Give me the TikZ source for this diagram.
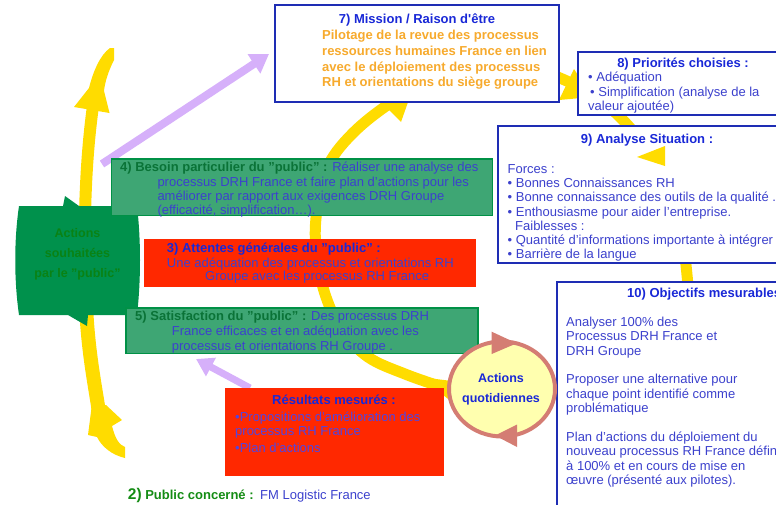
\documentclass[tikz,border=0pt]{standalone}
\usepackage{fontspec}
\setmainfont{Liberation Sans}
\usetikzlibrary{arrows.meta,shapes.geometric}
\definecolor{yel}{RGB}{255,220,0}
\definecolor{lil}{RGB}{214,176,250}
\definecolor{bblue}{RGB}{30,45,180}
\definecolor{tblue}{RGB}{25,40,215}
\definecolor{txtblue}{RGB}{60,65,205}
\definecolor{orng}{RGB}{247,170,45}
\definecolor{gfill}{RGB}{62,166,116}
\definecolor{gline}{RGB}{0,145,70}
\definecolor{gtext}{RGB}{10,115,55}
\definecolor{redf}{RGB}{255,40,0}
\definecolor{dgreen}{RGB}{0,145,76}
\definecolor{dgtext}{RGB}{10,130,20}
\definecolor{cfill}{RGB}{255,255,175}
\definecolor{cline}{RGB}{212,125,115}
\definecolor{pubgreen}{RGB}{20,140,20}
\definecolor{redtxt}{RGB}{80,70,225}
\newcommand{\mystrut}{\rule{0pt}{11pt}}
\begin{document}
\begin{tikzpicture}[x=1pt,y=-1pt,
  bluebox/.style={draw=bblue, line width=2pt, fill=white, anchor=north west, inner sep=0pt, outer sep=0pt},
  greenbox/.style={draw=gline, line width=1.8pt, fill=gfill, anchor=north west, inner sep=0pt, outer sep=0pt},
  redbox/.style={fill=redf, anchor=north west, inner sep=0pt, outer sep=0pt},
  ttl/.style={font=\fontsize{13}{15}\selectfont\bfseries, text=tblue, inner sep=0pt, anchor=base},
  body/.style={inner sep=0pt, anchor=north west, align=left, text=txtblue, font=\fontsize{13}{14.2}\selectfont},
  yband/.style={draw=yel, line width=11pt},
  lilarrow/.style={draw=lil, line width=8pt, -{Triangle[length=18pt,width=22pt]}}
]
\useasboundingbox (0,0) rectangle (776,504);
\clip (0,0) rectangle (776,504);

% big yellow loop
\draw[yband] plot[smooth, tension=0.6] coordinates {(475,398) (445,388) (405,374) (368,357) (342,330) (326,297) (317,258) (316,218) (326,170) (352,134) (395,100) (450,70) (510,62) (560,78) (600,100) (632,130) (660,170) (678,215) (686,265) (688,310) (680,360)};
\fill[yel] (378,99) -- (401,122) -- (413,88) -- cycle;
\fill[yel] (559,100) -- (574,69) -- (592,97) -- cycle;
\fill[yel] (420,377) -- (452,381) -- (452,402) -- cycle;

% left yellow arrow
\draw[draw=yel, line width=12pt] (85,215) .. controls (86,170) and (89,135) .. (93,106);
\fill[yel] (74,107) -- (89,88) .. controls (93,72) and (100,55) .. (110,48) -- (114,48) -- (114,60) .. controls (108,72) and (105,82) .. (104,91) -- (109.5,113) -- cycle;
\draw[draw=yel, line width=14pt] (86,305) .. controls (88,350) and (94,380) .. (99,412);
\fill[yel] (91.5,408) -- (106,405) -- (122,420) -- (112,426) .. controls (115,438) and (119,445) .. (125,447) -- (125,458) .. controls (112,455) and (102,447) .. (97,437) -- (88,435) -- cycle;

% lilac arrows
\coordinate (l1s) at (102,164);
\coordinate (l1e) at (269,54);
\draw[lilarrow] (l1s) -- (l1e);
\coordinate (l2s) at (250,388);
\coordinate (l2e) at (196,359);
\draw[draw=lil, line width=7pt, -{Triangle[length=17pt,width=20pt]}] (l2s) -- (l2e);

% green shape
\fill[dgreen] (19,206) -- (63,206) -- (65,196) -- (79,206) -- (137,206) .. controls (141,240) and (141,280) .. (137,315) -- (88,315) -- (87,326) -- (68,315) -- (19,315) .. controls (14,280) and (14,240) .. (19,206) -- cycle;
\node[inner sep=0pt, anchor=north, align=center, text=dgtext, font=\bfseries\fontsize{12.5}{19.8}\selectfont] (gst) at (77.5,226.3) {\mystrut Actions\\souhaitées\\par le "public"};

% box 7
\node[bluebox, line width=2.5pt, minimum width=284pt, minimum height=97pt] (b7) at (275,5) {};
\node[ttl] (b7t) at (417,23.5) {7) Mission / Raison d\textquotesingle être};
\node[body, text=orng, font=\fontsize{13}{15.7}\selectfont\bfseries] (b7b) at (322,28.5) {\mystrut Pilotage de la revue des processus\\ressources humaines France en lien\\avec le déploiement des processus\\RH et orientations du siège groupe};

% box 8
\node[bluebox, minimum width=222pt, minimum height=63pt] (b8) at (578,52) {};
\node[ttl] (b8t) at (683,67.3) {8) Priorités choisies :};
\node[body] (b8b) at (588,70.7) {\mystrut• Adéquation\\\hspace*{2pt}• Simplification (analyse de la\\valeur ajoutée)};

% box 9
\node[bluebox, minimum width=302pt, minimum height=137.5pt] (b9) at (498,125.5) {};
\node[ttl] (b9t) at (647,143.3) {9) Analyse Situation :};
\node[body] (b9b) at (507.5,162.3) {\mystrut Forces :\\• Bonnes Connaissances RH\\• Bonne connaissance des outils de la qualité ...\\• Enthousiasme pour aider l’entreprise.\\\hspace*{7.5pt}Faiblesses :\\• Quantité d’informations importante à intégrer\\• Barrière de la langue};
\fill[yel] (637,157) -- (665,146) -- (665,166) -- cycle;

% box 10
\node[bluebox, minimum width=243pt, minimum height=240pt] (b10) at (557,282) {};
\node[ttl, anchor=base west] (b10t) at (627,297.3) {10) Objectifs mesurables};
\node[body, font=\fontsize{13}{14.4}\selectfont] (b10b) at (566,315) {\mystrut Analyser 100\% des\\Processus DRH France et\\DRH Groupe\\\mbox{}\\Proposer une alternative pour\\chaque point identifié comme\\problématique\\\mbox{}\\Plan d’actions du déploiement du\\nouveau processus RH France défini\\à 100\% et en cours de mise en\\œuvre (présenté aux pilotes).};

% box 4
\node[greenbox, minimum width=381pt, minimum height=56.5pt] (b4) at (111.5,159) {};
\node[body, anchor=base west] (b4a) at (120,171.7) {\textcolor{gtext}{\bfseries 4) Besoin particulier du "public" :} Réaliser une analyse des};
\node[body] (b4b) at (157.3,175) {\mystrut processus DRH France et faire plan d’actions pour les\\améliorer par rapport aux exigences DRH Groupe\\(efficacité, simplification…).};

% box 3
\node[redbox, minimum width=332pt, minimum height=48pt] (b3) at (144,239) {};
\node[ttl, anchor=base west] (b3t) at (166.7,252.5) {3) Attentes générales du "public" :};
\node[body, anchor=base west] (b3a) at (166.7,267.5) {Une adéquation des processus et orientations RH};
\node[body, anchor=base west] (b3b) at (205,280) {Groupe avec les processus RH France};

% box 5
\node[greenbox, minimum width=352pt, minimum height=45.5pt] (b5) at (126,308) {};
\node[body, anchor=base west] (b5a) at (135,320) {\textcolor{gtext}{\bfseries 5) Satisfaction du "public" :} Des processus DRH};
\node[body, font=\fontsize{13}{15}\selectfont] (b5b) at (171.7,324) {\mystrut France efficaces et en adéquation avec les\\processus et orientations RH Groupe .};

% resultats
\node[redbox, minimum width=219pt, minimum height=88pt] (br) at (225,388) {};
\node[ttl] (brt) at (334,404.3) {Résultats mesurés :};
\node[body, text=redtxt, font=\fontsize{13}{14}\selectfont] (brb) at (235,410.7) {\mystrut•Propositions d’amélioration des\\processus RH France\\[3pt]•Plan d’actions};

% actions quotidiennes
\node[draw=cline, line width=4pt, fill=cfill, ellipse, minimum width=106pt, minimum height=95pt, inner sep=0pt] (aq) at (502,389) {};
\fill[cline] (491.7,331.7) -- (516.7,343.3) -- (491.7,354) -- cycle;
\fill[cline] (517,424.5) -- (495,435.5) -- (517,447) -- cycle;
\node[inner sep=0pt, anchor=north, align=center, text=tblue, font=\bfseries\fontsize{12.5}{20}\selectfont] (aqt) at (501,371.7) {\mystrut Actions\\quotidiennes};

% bottom
\node[anchor=base west, inner sep=0pt, text=pubgreen, font=\bfseries\fontsize{13}{14}\selectfont] (pub) at (127.7,499) {{\fontsize{15.5}{16}\selectfont 2)} Public concerné :};
\node[anchor=base west, inner sep=0pt, text=txtblue, font=\fontsize{13}{14}\selectfont] (fm) at (260,499.3) {FM Logistic France};
\end{tikzpicture}
\end{document}
